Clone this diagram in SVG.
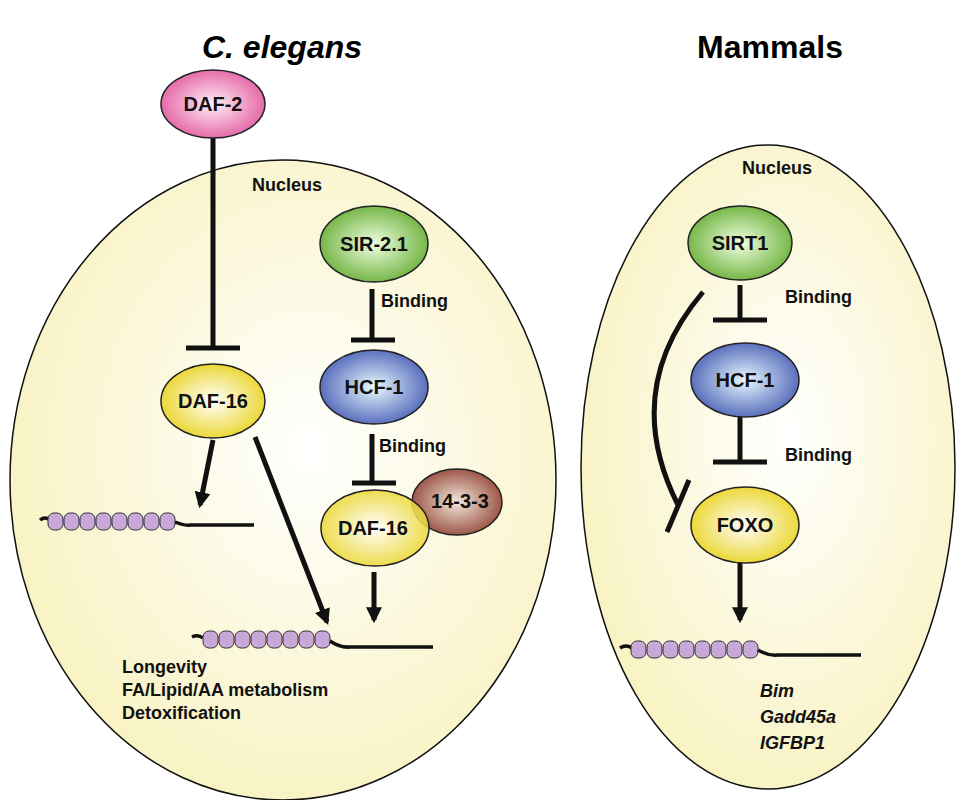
<svg xmlns="http://www.w3.org/2000/svg" width="965" height="800" viewBox="0 0 965 800">
<defs>
<radialGradient id="cell" cx="0.55" cy="0.45" r="0.6"><stop offset="0" stop-color="#ffffff"/><stop offset="1" stop-color="#f8f2c0"/></radialGradient>
<radialGradient id="pink" cx="0.5" cy="0.5" r="0.6"><stop offset="0" stop-color="#fff0f6"/><stop offset="1" stop-color="#e0509a"/></radialGradient>
<radialGradient id="green" cx="0.5" cy="0.5" r="0.6"><stop offset="0" stop-color="#f0ffe0"/><stop offset="1" stop-color="#5ea82a"/></radialGradient>
<radialGradient id="blue" cx="0.5" cy="0.5" r="0.6"><stop offset="0" stop-color="#e8f8ff"/><stop offset="1" stop-color="#3e54b0"/></radialGradient>
<radialGradient id="yellow" cx="0.5" cy="0.5" r="0.6"><stop offset="0" stop-color="#ffffff"/><stop offset="1" stop-color="#e8d010"/></radialGradient>
<radialGradient id="brown" cx="0.5" cy="0.5" r="0.6"><stop offset="0" stop-color="#f2e8dc"/><stop offset="1" stop-color="#8c3a2a"/></radialGradient>
<marker id="ah" viewBox="0 0 10 10" refX="8" refY="5" markerWidth="3.2" markerHeight="3.2" orient="auto"><path d="M0,0 L10,5 L0,10 z" fill="#111"/></marker>
</defs>
<style>
.cellE{fill:url(#cell);stroke:#111;stroke-width:1.5}
.node{stroke:#222;stroke-width:1.5}
.lbl{font-family:"Liberation Sans",Arial,sans-serif;font-weight:bold;font-size:18px;fill:#111}
.nl{font-family:"Liberation Sans",Arial,sans-serif;font-weight:bold;font-size:20px;fill:#111;text-anchor:middle}
.ttl{font-family:"Liberation Sans",Arial,sans-serif;font-weight:bold;font-size:32px;fill:#000;text-anchor:middle}
.ln{stroke:#111;stroke-width:5;fill:none}
.nucl{fill:#c8a8d8;stroke:#333;stroke-width:1}
.dna{stroke:#111;stroke-width:3.5;fill:none}
</style>
<text class="ttl" x="282" y="58" font-style="italic">C. elegans</text>
<text class="ttl" x="770" y="58">Mammals</text>
<ellipse id="cellL" class="cellE" cx="283" cy="480" rx="273" ry="320"/>
<ellipse id="cellR" class="cellE" cx="768" cy="467" rx="187" ry="322"/>
<text class="lbl" x="252" y="191" font-size="17">Nucleus</text>
<text class="lbl" x="742" y="174" font-size="17">Nucleus</text>
<g id="connectors">
<path class="ln" d="M213,138 V348 M186,348 H240"/>
<path class="ln" d="M372,289 V340 M351,340 H395"/>
<path class="ln" d="M372,434 V483 M352,483 H396"/>
<path class="ln" d="M374,572 V620" marker-end="url(#ah)"/>
<path class="ln" d="M213,440 L200,505" marker-end="url(#ah)"/>
<path class="ln" d="M255,437 L327,622" marker-end="url(#ah)"/>
<path class="ln" d="M740,285 V320 M713,320 H767"/>
<path class="ln" d="M740,405 V462 M713,462 H767"/>
<path class="ln" d="M740,558 V620" marker-end="url(#ah)"/>
<path class="ln" d="M703,292 Q620,390 678,505 M689,480 L667,532"/>
</g>
<g id="dna1">
<path d="M40,520 Q45,516 50,520" class="dna" stroke-width="2"/>
<g class="nucl">
<rect x="48" y="513" width="15" height="17" rx="6"/><rect x="64" y="513" width="15" height="17" rx="6"/><rect x="80" y="513" width="15" height="17" rx="6"/><rect x="96" y="513" width="15" height="17" rx="6"/><rect x="112" y="513" width="15" height="17" rx="6"/><rect x="128" y="513" width="15" height="17" rx="6"/><rect x="144" y="513" width="15" height="17" rx="6"/><rect x="160" y="513" width="15" height="17" rx="6"/>
</g>
<path class="dna" d="M175,522 Q185,526 190,525 H254"/>
</g>
<g id="dna2">
<path d="M192,637 Q198,634 203,638" class="dna" stroke-width="2"/>
<g class="nucl">
<rect x="203" y="631" width="15" height="17" rx="6"/><rect x="219" y="631" width="15" height="17" rx="6"/><rect x="235" y="631" width="15" height="17" rx="6"/><rect x="251" y="631" width="15" height="17" rx="6"/><rect x="267" y="631" width="15" height="17" rx="6"/><rect x="283" y="631" width="15" height="17" rx="6"/><rect x="299" y="631" width="15" height="17" rx="6"/><rect x="315" y="631" width="15" height="17" rx="6"/>
</g>
<path class="dna" d="M330,641 Q340,648 350,647 H433"/>
</g>
<g id="dna3">
<path d="M620,648 Q626,644 632,648" class="dna" stroke-width="2"/>
<g class="nucl">
<rect x="631" y="641" width="15" height="17" rx="6"/><rect x="647" y="641" width="15" height="17" rx="6"/><rect x="663" y="641" width="15" height="17" rx="6"/><rect x="679" y="641" width="15" height="17" rx="6"/><rect x="695" y="641" width="15" height="17" rx="6"/><rect x="711" y="641" width="15" height="17" rx="6"/><rect x="727" y="641" width="15" height="17" rx="6"/><rect x="743" y="641" width="15" height="17" rx="6"/>
</g>
<path class="dna" d="M758,650 Q768,656 778,655 H861"/>
</g>
<g id="daf2"><ellipse class="node" cx="213" cy="104" rx="52" ry="34" fill="url(#pink)"/><text class="nl" x="213" y="111">DAF-2</text></g>
<g id="daf16a"><ellipse class="node" cx="213" cy="401" rx="52" ry="37" fill="url(#yellow)"/><text class="nl" x="213" y="408">DAF-16</text></g>
<g id="sir21"><ellipse class="node" cx="374" cy="244" rx="54" ry="38" fill="url(#green)"/><text class="nl" x="374" y="251">SIR-2.1</text></g>
<g id="hcf1a"><ellipse class="node" cx="374" cy="387" rx="54" ry="37" fill="url(#blue)"/><text class="nl" x="374" y="394">HCF-1</text></g>
<g id="p1433"><ellipse class="node" cx="457" cy="502" rx="45" ry="33" fill="url(#brown)"/><text class="nl" x="460" y="508" font-size="17">14-3-3</text></g>
<g id="daf16b"><ellipse class="node" cx="375" cy="528" rx="54" ry="38" fill="url(#yellow)" fill-opacity="0.88"/><text class="nl" x="373" y="535">DAF-16</text></g>
<text class="lbl" x="381" y="307">Binding</text>
<text class="lbl" x="379" y="452">Binding</text>
<text class="lbl" x="122" y="673">Longevity</text>
<text class="lbl" x="122" y="696">FA/Lipid/AA metabolism</text>
<text class="lbl" x="122" y="719">Detoxification</text>
<g id="sirt1"><ellipse class="node" cx="740" cy="243" rx="52" ry="37" fill="url(#green)"/><text class="nl" x="740" y="250">SIRT1</text></g>
<g id="hcf1b"><ellipse class="node" cx="745" cy="380" rx="54" ry="37" fill="url(#blue)"/><text class="nl" x="745" y="387">HCF-1</text></g>
<g id="foxo"><ellipse class="node" cx="745" cy="525" rx="54" ry="38" fill="url(#yellow)"/><text class="nl" x="745" y="532">FOXO</text></g>
<text class="lbl" x="785" y="303">Binding</text>
<text class="lbl" x="785" y="461">Binding</text>
<text class="lbl" x="760" y="697" font-style="italic">Bim</text>
<text class="lbl" x="760" y="723" font-style="italic">Gadd45a</text>
<text class="lbl" x="760" y="749" font-style="italic">IGFBP1</text>
</svg>
